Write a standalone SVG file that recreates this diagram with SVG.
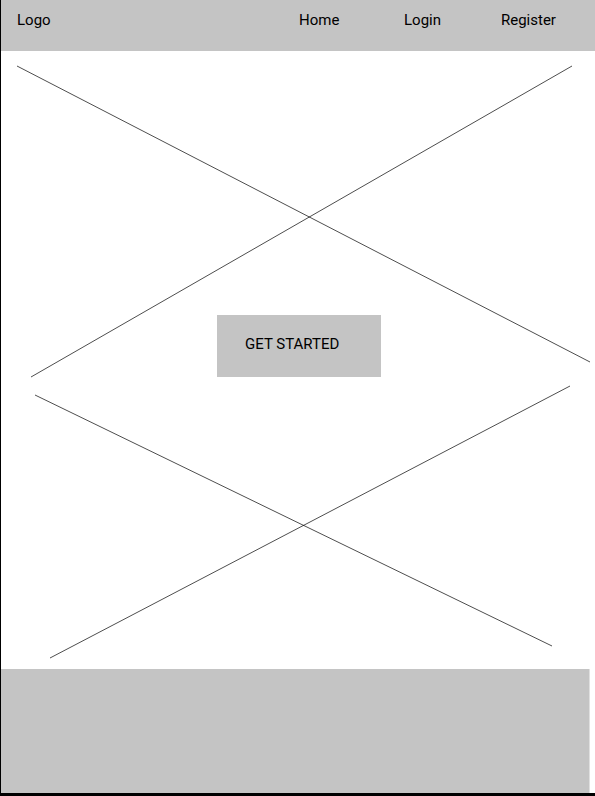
<svg xmlns="http://www.w3.org/2000/svg" width="595" height="796" viewBox="0 0 595 796">
<style>
.box{fill:#c4c4c4}
.t{font-family:Roboto,"Liberation Sans",sans-serif;font-size:15px;fill:#000}
.x{stroke:#000;stroke-width:0.7;fill:none}
</style>
<rect x="0" y="0" width="595" height="796" fill="#fff"/>
<rect x="0" y="0" width="1" height="796" fill="#000"/>
<g id="header">
<rect class="box" x="1" y="0" width="594" height="51"/>
<text class="t" x="17" y="25">Logo</text>
<text class="t" x="299" y="25">Home</text>
<text class="t" x="404" y="25">Login</text>
<text class="t" x="501" y="25">Register</text>
</g>
<g id="connectors">
<line class="x" x1="17" y1="66" x2="590" y2="362"/>
<line class="x" x1="572" y1="66" x2="31" y2="377"/>
<line class="x" x1="35" y1="395" x2="552" y2="646"/>
<line class="x" x1="570" y1="386" x2="50" y2="658"/>
</g>
<g id="button">
<rect class="box" x="217" y="315" width="164" height="62"/>
<text class="t" x="245" y="349">GET STARTED</text>
</g>
<g id="footer">
<rect class="box" x="1" y="669" width="588" height="124"/>
<rect x="589" y="669" width="1" height="124" fill="#e0e0e0"/>
</g>
<rect x="0" y="793" width="595" height="3" fill="#000"/>
</svg>
